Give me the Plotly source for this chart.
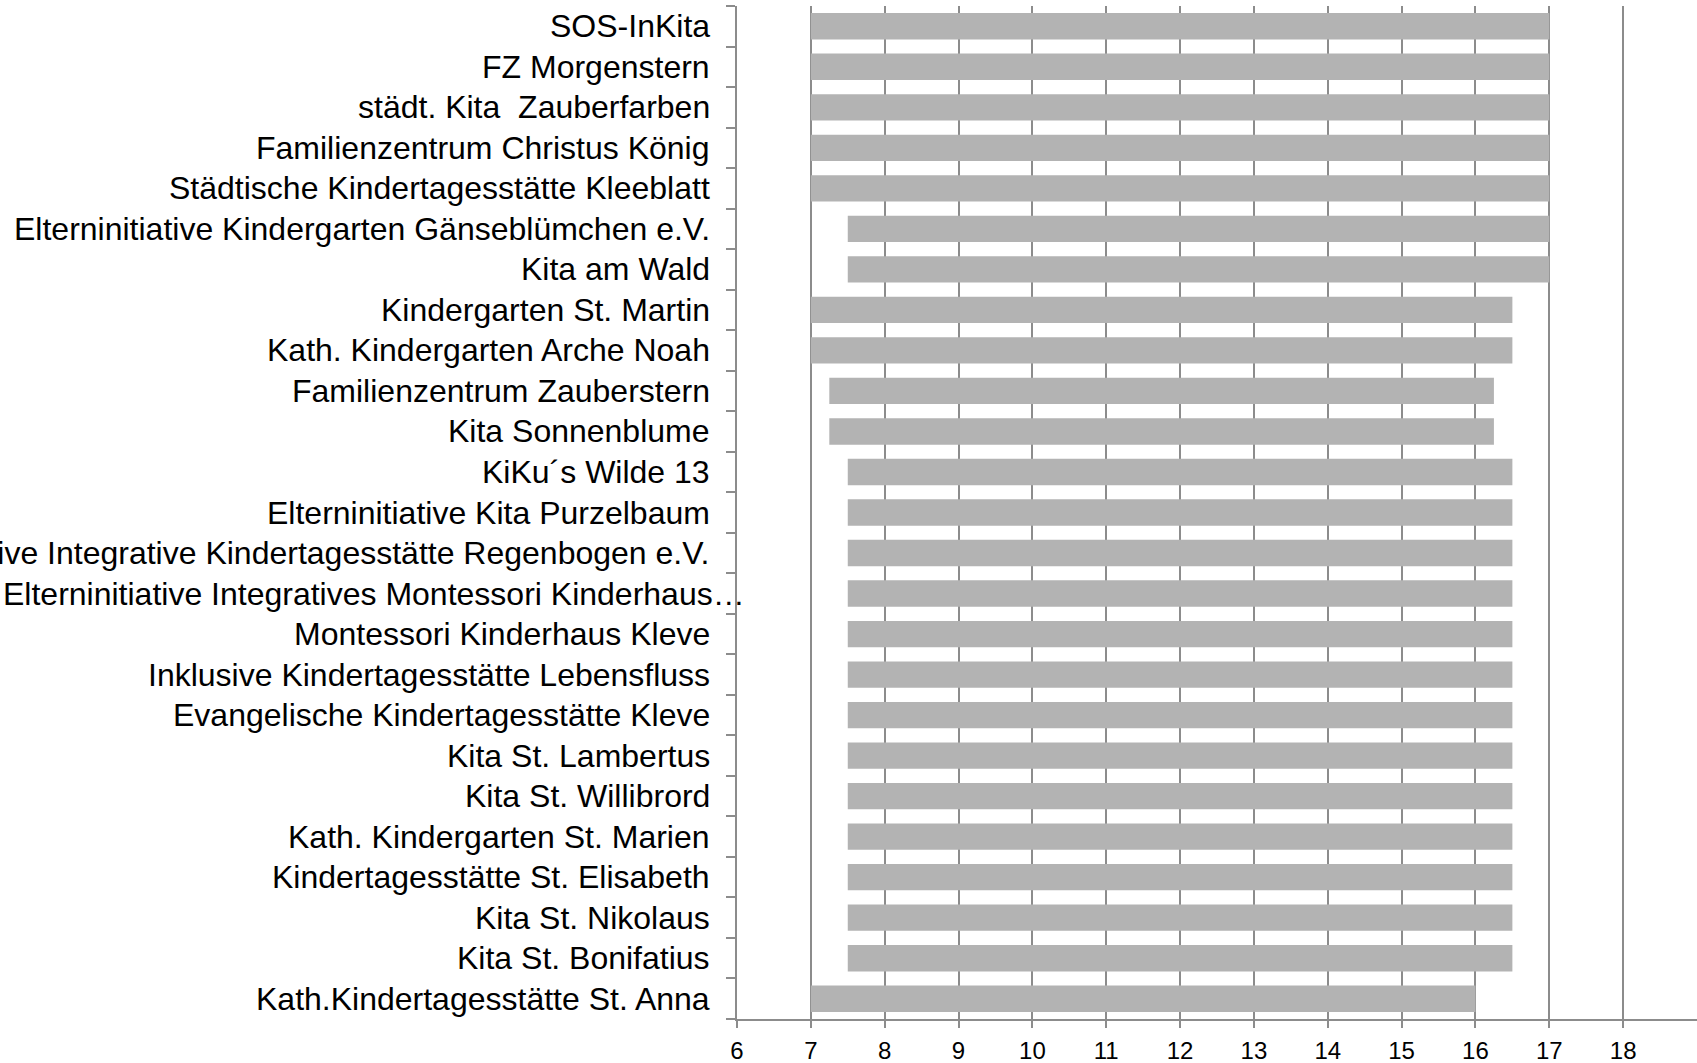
import plotly.graph_objects as go

categories = [
    "SOS-InKita",
    "FZ Morgenstern",
    "städt. Kita  Zauberfarben",
    "Familienzentrum Christus König",
    "Städtische Kindertagesstätte Kleeblatt",
    "Elterninitiative Kindergarten Gänseblümchen e.V.",
    "Kita am Wald",
    "Kindergarten St. Martin",
    "Kath. Kindergarten Arche Noah",
    "Familienzentrum Zauberstern",
    "Kita Sonnenblume",
    "KiKu´s Wilde 13",
    "Elterninitiative Kita Purzelbaum",
    "Elterninitiative Integrative Kindertagesstätte Regenbogen e.V.",
    "Elterninitiative Integratives Montessori Kinderhaus…",
    "Montessori Kinderhaus Kleve",
    "Inklusive Kindertagesstätte Lebensfluss",
    "Evangelische Kindertagesstätte Kleve",
    "Kita St. Lambertus",
    "Kita St. Willibrord",
    "Kath. Kindergarten St. Marien",
    "Kindertagesstätte St. Elisabeth",
    "Kita St. Nikolaus",
    "Kita St. Bonifatius",
    "Kath.Kindertagesstätte St. Anna",
]
opening = [7, 7, 7, 7, 7, 7.5, 7.5, 7, 7, 7.25, 7.25, 7.5, 7.5, 7.5, 7.5,
           7.5, 7.5, 7.5, 7.5, 7.5, 7.5, 7.5, 7.5, 7.5, 7]
closing = [17, 17, 17, 17, 17, 17, 17, 16.5, 16.5, 16.25, 16.25, 16.5, 16.5,
           16.5, 16.5, 16.5, 16.5, 16.5, 16.5, 16.5, 16.5, 16.5, 16.5, 16.5, 16]
x_ticks = list(range(6, 19))

durations = [c - o for o, c in zip(opening, closing)]

fig = go.Figure(
    go.Bar(
        y=categories,
        x=durations,
        base=opening,
        orientation="h",
        marker=dict(color="#b3b3b3", line=dict(width=0)),
        hoverinfo="skip",
    )
)

axis_color = "#8c8c8c"
label_font = dict(family="Liberation Sans, Arial, sans-serif", size=32, color="black")

# category labels as annotations (the truncated one overflows like in the original)
annotations = []
for name in categories:
    if name.endswith("…"):
        annotations.append(dict(
            x=0, xref="paper", y=name, yref="y", text=name, showarrow=False,
            xanchor="left", xshift=-736, font=label_font,
        ))
    else:
        annotations.append(dict(
            x=0, xref="paper", y=name, yref="y", text=name, showarrow=False,
            xanchor="right", xshift=-25, font=label_font,
        ))

fig.update_layout(
    width=1697,
    height=1063,
    margin=dict(l=737, r=0, t=6, b=44),
    paper_bgcolor="white",
    plot_bgcolor="white",
    bargap=0.35,
    showlegend=False,
    font=dict(family="Liberation Sans, Arial, sans-serif", size=24, color="black"),
    annotations=annotations,
    xaxis=dict(
        range=[6, 19],
        tickvals=x_ticks,
        ticktext=[str(v) for v in x_ticks],
        showgrid=True,
        gridcolor=axis_color,
        gridwidth=2,
        showline=True,
        linecolor=axis_color,
        linewidth=2,
        ticks="outside",
        ticklen=7,
        tickwidth=2,
        tickcolor=axis_color,
        tickfont=dict(size=24),
        ticklabelstandoff=2,
        zeroline=False,
        fixedrange=True,
    ),
    yaxis=dict(
        categoryorder="array",
        categoryarray=categories[::-1],
        showline=True,
        linecolor=axis_color,
        linewidth=2,
        ticks="outside",
        tickson="boundaries",
        ticklen=9,
        tickwidth=2,
        tickcolor=axis_color,
        showgrid=False,
        showticklabels=False,
        automargin=False,
        fixedrange=True,
    ),
)

fig.write_html(
    "out.html",
    config={"displayModeBar": False},
    post_script="document.body.style.margin='0';",
)
